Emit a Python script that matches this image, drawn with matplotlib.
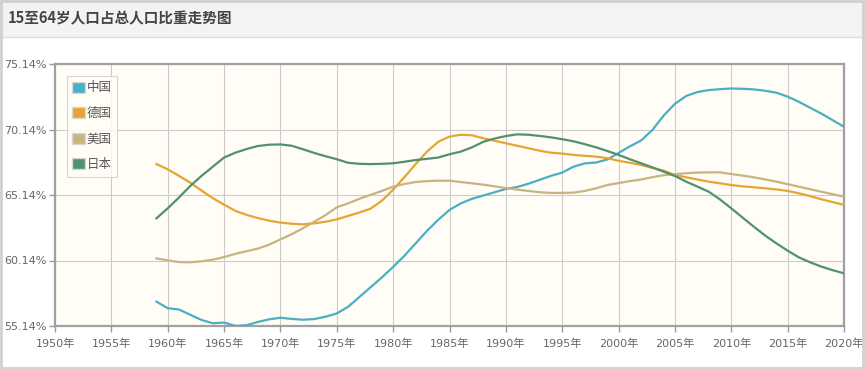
#plot.py
#15至64岁人口占总人口比重走势图 (中国, 德国, 美国, 日本)

import matplotlib
matplotlib.use('Agg')
import matplotlib.pyplot as plt
from matplotlib.patches import Patch, Rectangle

plt.rcParams['font.family'] = ['DejaVu Sans', 'Noto Sans CJK SC']

anios = list(range(1959, 2021))

china = [57.0, 56.5, 56.4, 56.0, 55.6, 55.35, 55.4, 55.15, 55.2, 55.45,
         55.65, 55.77, 55.68, 55.62, 55.67, 55.85, 56.1, 56.6, 57.35, 58.1,
         58.85, 59.65, 60.5, 61.45, 62.4, 63.25, 64.0, 64.5, 64.85, 65.1,
         65.35, 65.6, 65.75, 66.0, 66.3, 66.6, 66.85, 67.3, 67.55, 67.62,
         67.85, 68.35, 68.85, 69.3, 70.1, 71.2, 72.1, 72.7, 73.0, 73.15,
         73.22, 73.27, 73.25, 73.2, 73.1, 72.95, 72.65, 72.25, 71.8, 71.35,
         70.85, 70.35]

alemania = [67.5, 67.1, 66.6, 66.08, 65.48, 64.9, 64.4, 63.93, 63.62, 63.38,
            63.18, 63.03, 62.95, 62.9, 62.98, 63.1, 63.28, 63.54, 63.8, 64.1,
            64.7, 65.55, 66.5, 67.5, 68.45, 69.2, 69.6, 69.74, 69.7, 69.47,
            69.28, 69.09, 68.9, 68.71, 68.52, 68.37, 68.3, 68.2, 68.13, 68.07,
            67.95, 67.75, 67.6, 67.43, 67.2, 67.0, 66.67, 66.49, 66.32, 66.16,
            66.03, 65.9, 65.8, 65.73, 65.65, 65.57, 65.45, 65.27, 65.05, 64.81,
            64.6, 64.38]

eeuu = [60.3, 60.15, 60.02, 60.0, 60.08, 60.2, 60.4, 60.65, 60.85, 61.05,
        61.35, 61.75, 62.15, 62.6, 63.1, 63.6, 64.2, 64.5, 64.85, 65.15,
        65.45, 65.78, 65.98, 66.13, 66.2, 66.23, 66.23, 66.13, 66.03, 65.93,
        65.8, 65.67, 65.55, 65.45, 65.35, 65.3, 65.3, 65.32, 65.45, 65.65,
        65.9, 66.05, 66.2, 66.32, 66.5, 66.65, 66.74, 66.8, 66.85, 66.87,
        66.87, 66.74, 66.62, 66.49, 66.33, 66.16, 65.97, 65.77, 65.58, 65.39,
        65.2, 65.01]

japon = [63.36, 64.12, 64.95, 65.83, 66.6, 67.3, 68.0, 68.37, 68.65, 68.88,
         68.98, 69.0, 68.9, 68.63, 68.35, 68.1, 67.87, 67.6, 67.52, 67.5,
         67.52, 67.56, 67.68, 67.81, 67.9, 68.0, 68.25, 68.45, 68.78, 69.2,
         69.45, 69.64, 69.77, 69.74, 69.65, 69.54, 69.4, 69.24, 69.02, 68.78,
         68.5, 68.2, 67.87, 67.56, 67.25, 66.92, 66.59, 66.16, 65.78, 65.39,
         64.8, 64.12, 63.42, 62.72, 62.05, 61.45, 60.89, 60.38, 60.0, 59.67,
         59.4, 59.16]

series = [('中国', china, '#4bafc3'),
          ('德国', alemania, '#e6a532'),
          ('美国', eeuu, '#c8b482'),
          ('日本', japon, '#50916e')]

x_ticks = list(range(1950, 2021, 5))
x_labels = [f'{a}年' for a in x_ticks]
y_ticks = [55.14, 60.14, 65.14, 70.14, 75.14]
y_labels = [f'{v:.2f}%' for v in y_ticks]

fig = plt.figure(figsize=(8.65, 3.69), dpi=100)

# cabecera gris con el titulo
fig.patches.append(Rectangle((0, 1 - 37/369), 1, 37/369, transform=fig.transFigure,
                             facecolor='#f3f3f3', edgecolor='none', zorder=0))
fig.add_artist(plt.Line2D([0, 1], [1 - 37/369, 1 - 37/369], transform=fig.transFigure,
                          color='#dddddd', lw=1))
fig.patches.append(Rectangle((0.001, 0.003), 0.997, 0.995, transform=fig.transFigure,
                             facecolor='none', edgecolor='#d0d0d0', lw=2, zorder=5))
fig.text(8/865, 1 - 18/369, '15至64岁人口占总人口比重走势图', fontsize=10.5, fontweight='bold',
         color='#444444', va='center', ha='left', family=['Noto Sans CJK SC', 'DejaVu Sans'])

ax = fig.add_axes([55/865, 1 - 326/369, 789/865, 262/369])
ax.set_facecolor('#fffdf6')

for nombre, valores, color in series:
    ax.plot(anios, valores, color=color, lw=1.6, label=nombre, zorder=3)

ax.set_xlim(1950, 2020)
ax.set_ylim(55.14, 75.14)
ax.set_xticks(x_ticks)
ax.set_xticklabels(x_labels)
ax.set_yticks(y_ticks)
ax.set_yticklabels(y_labels)
ax.grid(True, color='#cccccc', lw=0.8, zorder=0)
ax.tick_params(colors='#999999', labelcolor='#666666', labelsize=8, length=4, width=1)
ax.tick_params(axis='x', pad=5)
ax.tick_params(axis='y', pad=2)
for lado in ax.spines.values():
    lado.set_color('#a0a0a0')
    lado.set_linewidth(1.6)

handles = [Patch(facecolor=c, edgecolor='#d8d8d8', label=n) for n, v, c in series]
leg = ax.legend(handles=handles, loc='upper left', bbox_to_anchor=(0.015, 0.955),
                borderaxespad=0, handlelength=1.0, handleheight=1.0,
                handletextpad=0.15, labelspacing=1.0, borderpad=0.45,
                fancybox=False, frameon=True,
                prop={'family': ['Noto Sans CJK SC', 'DejaVu Sans'], 'size': 9})
leg.get_frame().set_edgecolor('#cccccc')
leg.get_frame().set_facecolor('#fffdf6')
leg.get_frame().set_linewidth(0.8)
for t in leg.get_texts():
    t.set_color('#555555')

fig.savefig('out.png', dpi=100)
